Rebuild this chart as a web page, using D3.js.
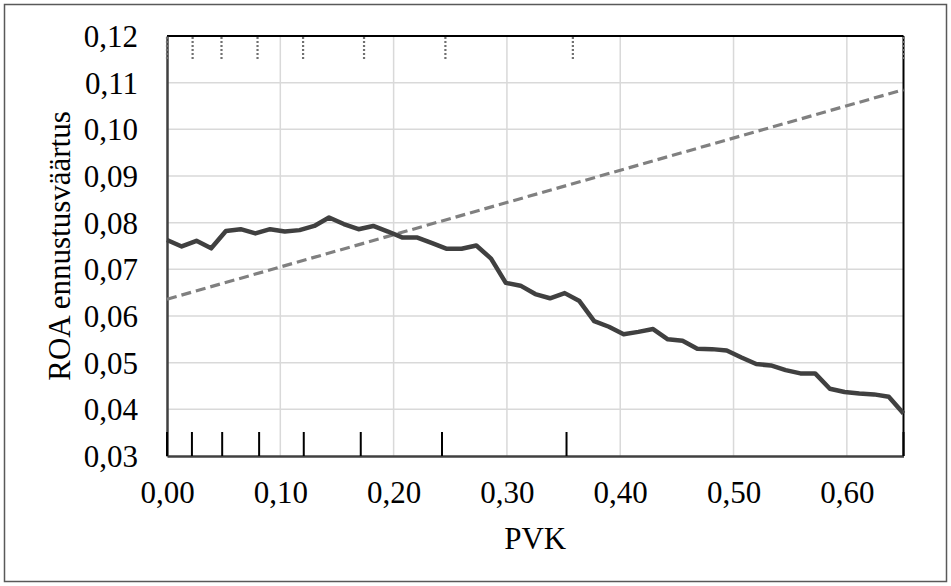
<!DOCTYPE html>
<html>
<head>
<meta charset="utf-8">
<script src="https://cdn.jsdelivr.net/npm/d3@7"></script>
<style>
  html, body { margin: 0; padding: 0; background: #fff; }
  svg text { font-family: "Liberation Serif", "Times New Roman", serif; fill: #000; }
</style>
</head>
<body>
<svg id="chart" width="951" height="586"></svg>
<script>
// ---- data ----
const pvk = [0.000,0.013,0.026,0.039,0.052,0.065,0.078,0.091,0.104,0.117,0.130,0.143,0.156,0.169,0.182,0.195,0.208,0.221,0.234,0.247,0.260,0.273,0.286,0.299,0.312,0.325,0.338,0.351,0.364,0.377,0.390,0.403,0.416,0.429,0.442,0.455,0.468,0.481,0.494,0.507,0.520,0.533,0.546,0.559,0.572,0.585,0.598,0.611,0.624,0.637,0.650];
const roa = [0.0763,0.0749,0.0761,0.0745,0.0782,0.0786,0.0777,0.0786,0.0781,0.0784,0.0793,0.0811,0.0797,0.0786,0.0793,0.0781,0.0768,0.0768,0.0756,0.0744,0.0744,0.0751,0.0723,0.0671,0.0665,0.0647,0.0638,0.0649,0.0632,0.0589,0.0577,0.0561,0.0566,0.0572,0.0550,0.0547,0.0530,0.0529,0.0526,0.0511,0.0497,0.0494,0.0484,0.0477,0.0477,0.0444,0.0437,0.0434,0.0432,0.0427,0.0391];
const trendPvk = [0.0, 0.65];
const trendRoa = [0.0636, 0.1085];
const rugBottom = [0.0, 0.022, 0.0487, 0.0813, 0.1207, 0.171, 0.2427, 0.3526, 0.65];
const rugTop = [0.0, 0.0226, 0.0481, 0.0799, 0.1201, 0.1739, 0.2457, 0.3582, 0.65];
const xTicks = [0.0, 0.1, 0.2, 0.3, 0.4, 0.5, 0.6];
const yTicks = [0.03, 0.04, 0.05, 0.06, 0.07, 0.08, 0.09, 0.10, 0.11, 0.12];
const xTitle = "PVK";
const yTitle = "ROA ennustusväärtus";

// ---- layout ----
const svg = d3.select("#chart");
const pL = 167, pR = 903.5, pT = 36, pB = 456;
const x = d3.scaleLinear().domain([0, 0.65]).range([pL, pR]);
const y = d3.scaleLinear().domain([0.03, 0.12]).range([pB, pT]);
const fmt = d => d3.format(".2f")(d).replace(".", ",");

// outer border
svg.append("rect").attr("x", 4.5).attr("y", 4.5).attr("width", 942).attr("height", 577)
  .attr("fill", "#fff").attr("stroke", "#595959").attr("stroke-width", 1.5);

// gridlines
svg.append("g").selectAll("line").data(yTicks.filter(d => d > 0.031 && d < 0.119)).join("line")
  .attr("x1", pL).attr("x2", pR).attr("y1", d => y(d)).attr("y2", d => y(d))
  .attr("stroke", "#d9d9d9").attr("stroke-width", 1.5);
svg.append("g").selectAll("line").data(xTicks.filter(d => d > 0.001)).join("line")
  .attr("y1", pT).attr("y2", pB).attr("x1", d => x(d)).attr("x2", d => x(d))
  .attr("stroke", "#d9d9d9").attr("stroke-width", 1.5);

// top & right frame
svg.append("line").attr("x1", pL).attr("x2", pR).attr("y1", pT).attr("y2", pT)
  .attr("stroke", "#000").attr("stroke-width", 2);
svg.append("line").attr("x1", pR).attr("x2", pR).attr("y1", pT).attr("y2", pB)
  .attr("stroke", "#000").attr("stroke-width", 2);

// axes (D3 axes, ticks hidden)
const xAxis = svg.append("g").attr("transform", `translate(0,${pB})`)
  .call(d3.axisBottom(x).tickValues(xTicks).tickFormat(fmt).tickSize(0).tickPadding(47));
xAxis.select(".domain").attr("stroke", "#404040").attr("stroke-width", 2.5);
xAxis.selectAll("text").attr("font-size", 31).attr("font-family", "Liberation Serif").attr("dy", 0);

const yAxis = svg.append("g").attr("transform", `translate(${pL},0)`)
  .call(d3.axisLeft(y).tickValues(yTicks).tickFormat(fmt).tickSize(0).tickPadding(29));
yAxis.select(".domain").attr("stroke", "#404040").attr("stroke-width", 2.5);
yAxis.selectAll("text").attr("font-size", 31).attr("font-family", "Liberation Serif").attr("dy", "0.34em");

// rugs
svg.append("g").selectAll("line").data(rugBottom).join("line")
  .attr("x1", d => x(d)).attr("x2", d => x(d)).attr("y1", pB - 24).attr("y2", pB)
  .attr("stroke", "#000").attr("stroke-width", 2);
svg.append("g").selectAll("line").data(rugTop).join("line")
  .attr("x1", d => x(d)).attr("x2", d => x(d)).attr("y1", pT + 1).attr("y2", pT + 25)
  .attr("stroke", "#707070").attr("stroke-width", 2.2).attr("stroke-dasharray", "2,2");

// trend line
const trend = trendPvk.map((p, i) => [p, trendRoa[i]]);
svg.append("path").datum(trend)
  .attr("d", d3.line().x(d => x(d[0])).y(d => y(d[1])))
  .attr("fill", "none").attr("stroke", "#808080").attr("stroke-width", 3.2)
  .attr("stroke-dasharray", "10,5");

// main line
const pts = pvk.map((p, i) => [p, roa[i]]);
svg.append("path").datum(pts)
  .attr("d", d3.line().x(d => x(d[0])).y(d => y(d[1])))
  .attr("fill", "none").attr("stroke", "#404040").attr("stroke-width", 4.5)
  .attr("stroke-linejoin", "round");

// titles
svg.append("text").attr("x", (pL + pR) / 2).attr("y", 549).attr("text-anchor", "middle")
  .attr("font-size", 31).text(xTitle);
svg.append("text").attr("transform", `translate(70,${(pT + pB) / 2}) rotate(-90)`)
  .attr("text-anchor", "middle").attr("font-size", 31).text(yTitle);
</script>
</body>
</html>
